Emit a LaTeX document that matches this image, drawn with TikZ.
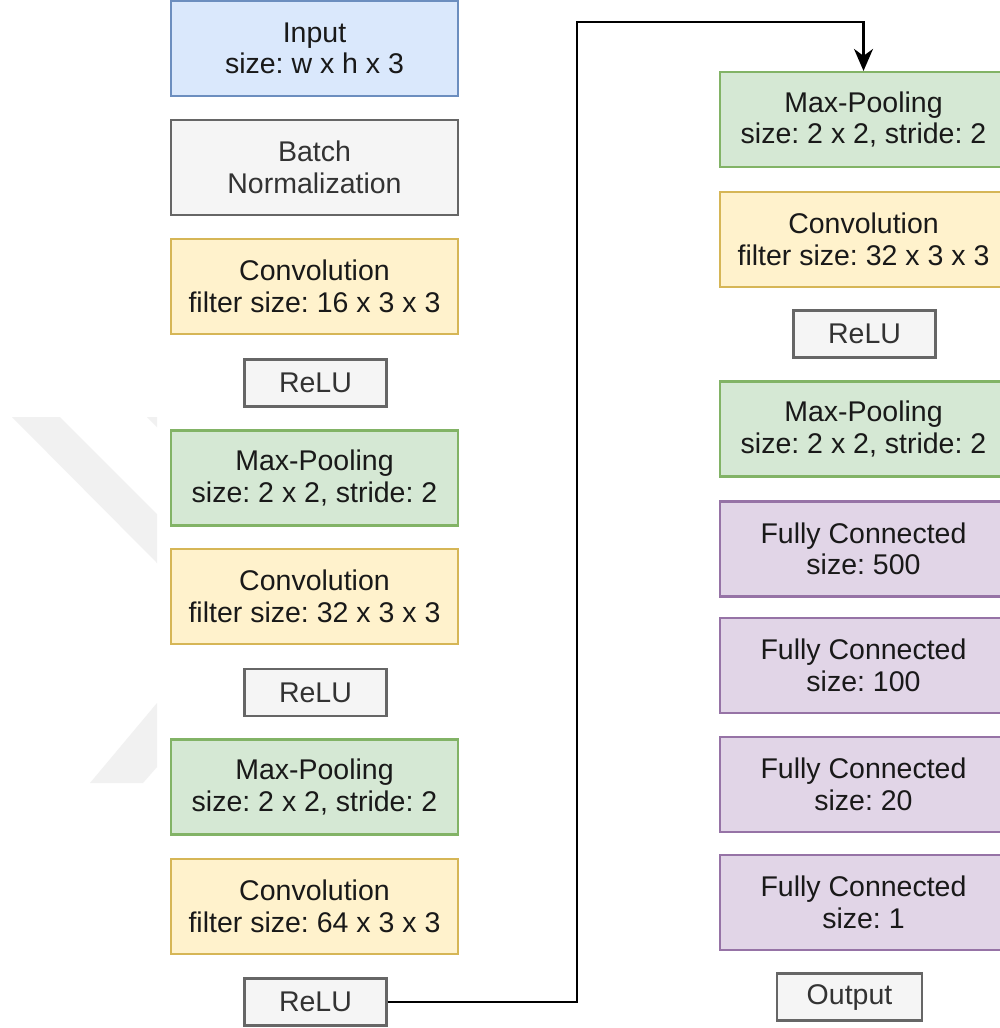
\documentclass[tikz,border=0pt]{standalone}
\usepackage{fontspec}
\setmainfont{Liberation Sans}
\usetikzlibrary{arrows.meta}
\definecolor{bluefill}{HTML}{DAE8FC}\definecolor{bluedraw}{HTML}{6C8EBF}
\definecolor{grayfill}{HTML}{F5F5F5}\definecolor{graydraw}{HTML}{666666}
\definecolor{yelfill}{HTML}{FFF2CC}\definecolor{yeldraw}{HTML}{D6B656}
\definecolor{grnfill}{HTML}{D5E8D4}\definecolor{grndraw}{HTML}{82B366}
\definecolor{purfill}{HTML}{E1D5E7}\definecolor{purdraw}{HTML}{9673A6}
\definecolor{txtgray}{HTML}{333333}
\definecolor{wmark}{HTML}{F1F1F1}
\frenchspacing
\tikzset{
  layer/.style={rectangle, line width=2.2pt, minimum width=287pt, minimum height=95pt,
    inner sep=0pt, align=center, text=black!90,
    font=\fontsize{28.5pt}{31.5pt}\selectfont},
  inbox/.style={layer, fill=bluefill, draw=bluedraw},
  normbox/.style={layer, fill=grayfill, draw=graydraw, text=txtgray},
  convbox/.style={layer, fill=yelfill, draw=yeldraw},
  poolbox/.style={layer, fill=grnfill, draw=grndraw},
  fcbox/.style={layer, fill=purfill, draw=purdraw},
  smallbox/.style={layer, fill=grayfill, draw=graydraw, text=txtgray,
    minimum width=142pt, minimum height=47pt},
  conn/.style={line width=2.2pt, black, -{Stealth[length=22pt,width=19pt,inset=7pt]}}
}
\begin{document}
\begin{tikzpicture}[x=1pt,y=-1pt]
\useasboundingbox (0,0) rectangle (1000,1028);
\fill[white] (0,0) rectangle (1000,1028);
% watermark
\fill[wmark] (12,417) -- (60,417) -- (157,514) -- (157,563) -- cycle;
\fill[wmark] (147,417) -- (157,417) -- (157,427) -- cycle;
\fill[wmark] (157,703) -- (90,783) -- (143,783) -- (157,767) -- cycle;
% left column
\node[inbox]   (in)  at (314.5,48.5)  {Input\\size: w x h x 3};
\node[normbox] (bn)  at (314.5,167.5) {Batch\\Normalization};
\node[convbox] (c1)  at (314.5,286.5) {Convolution\\filter size: 16 x 3 x 3};
\node[smallbox](r1)  at (315.5,383)   {ReLU};
\node[poolbox] (p1)  at (314.5,478)   {Max-Pooling\\size: 2 x 2, stride: 2};
\node[convbox] (c2)  at (314.5,596.5) {Convolution\\filter size: 32 x 3 x 3};
\node[smallbox](r2)  at (315.5,692.5) {ReLU};
\node[poolbox] (p2)  at (314.5,787)   {Max-Pooling\\size: 2 x 2, stride: 2};
\node[convbox] (c3)  at (314.5,906.5) {Convolution\\filter size: 64 x 3 x 3};
\node[smallbox](r3)  at (315.5,1002)  {ReLU};
% right column
\node[poolbox] (p3)  at (863.5,119.5) {Max-Pooling\\size: 2 x 2, stride: 2};
\node[convbox] (c4)  at (863.5,239.5) {Convolution\\filter size: 32 x 3 x 3};
\node[smallbox](r4)  at (864.5,334)   {ReLU};
\node[poolbox] (p4)  at (863.5,429)   {Max-Pooling\\size: 2 x 2, stride: 2};
\node[fcbox]   (f1)  at (863.5,549)   {Fully Connected\\size: 500};
\node[fcbox]   (f2)  at (863.5,665.5) {Fully Connected\\size: 100};
\node[fcbox]   (f3)  at (863.5,784.5) {Fully Connected\\size: 20};
\node[fcbox]   (f4)  at (863.5,902.5) {Fully Connected\\size: 1};
\node[smallbox,minimum width=145pt](out) at (849.5,997) {Output};
% connector
\coordinate (bend) at (577,22);
\draw[conn] (r3.east) -| (bend) -| (p3.north);
\end{tikzpicture}
\end{document}
